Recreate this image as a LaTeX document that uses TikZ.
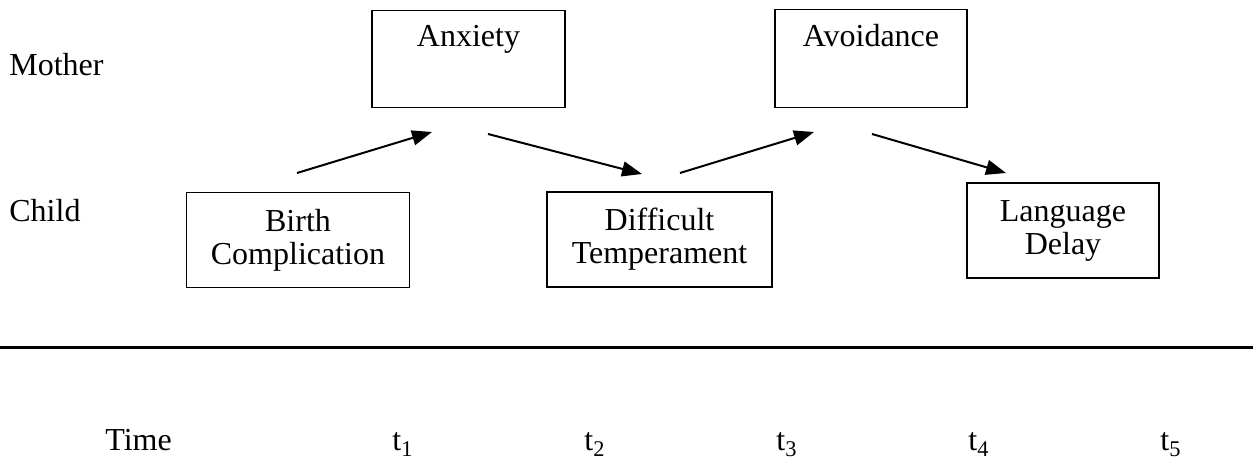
\documentclass[tikz,border=0pt]{standalone}
\usepackage{fontspec}
\setmainfont{Liberation Serif}
\usetikzlibrary{arrows.meta, positioning}
\tikzset{
  % Times-like text throughout, thin box frames
  every picture/.append style = {font=\fontsize{16}{16.5}\selectfont},
  box/.style   = {draw, line width=0.75pt, align=center, inner sep=0pt},
  lbl/.style   = {inner sep=0pt},
  flow/.style  = {-{Triangle[length=10pt, width=7.5pt]}, line width=1pt},
  rule/.style  = {line width=1.5pt},
}

\begin{document}
\begin{tikzpicture}[x=0.5pt, y=-0.5pt]
  \useasboundingbox (0,0) rectangle (1253,458);
  % row labels
  \node[lbl, anchor=base west] (mother) at (9,76) {Mother};
  \node[lbl, anchor=base west] (child) at (9,222) {Child};
  % mother row: text near the top of the box
  \node[box, anchor=north, minimum width=96.5pt, text height=18pt, text depth=30.5pt]
    (anx) at (468.5,10) {Anxiety};
  \node[box, anchor=north, minimum width=96pt, text height=18.5pt, text depth=30.5pt]
    (avo) at (871,9) {Avoidance};
  % child row
  \node[box, minimum width=111.5pt, minimum height=47.5pt] (birth) at (298,240)
    {Birth\\Complication};
  \node[box, minimum width=112.5pt, minimum height=47.5pt] (diff) at (659.5,239.5)
    {Difficult\\Temperament};
  \node[box, minimum width=96pt, minimum height=47.5pt] (lang) at (1063,230.5)
    {Language\\Delay};
  % arrows between the rows
  \coordinate (a1s) at (297,173);  \coordinate (a1e) at (432,132);
  \coordinate (a2s) at (488,134);  \coordinate (a2e) at (642,174);
  \coordinate (a3s) at (680,173);  \coordinate (a3e) at (814,132);
  \coordinate (a4s) at (872,134);  \coordinate (a4e) at (1006,173);
  \draw[flow] (a1s) -- (a1e);
  \draw[flow] (a2s) -- (a2e);
  \draw[flow] (a3s) -- (a3e);
  \draw[flow] (a4s) -- (a4e);
  % time axis
  \coordinate (ruleW) at (0,348);
  \coordinate (ruleE) at (1253,348);
  \draw[rule] (ruleW) -- (ruleE);
  \node[lbl, anchor=base west] (time) at (105,451) {Time};
  \foreach \i in {1,...,5}
    \node[lbl, anchor=base] (t\i) at ({211+192*\i},451) {t\textsubscript{\i}};
\end{tikzpicture}
\end{document}
